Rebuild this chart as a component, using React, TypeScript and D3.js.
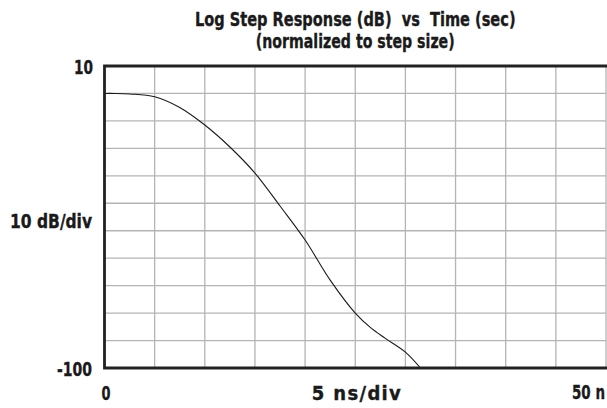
import React, { useEffect, useRef } from "react";
import * as d3 from "d3";

// Step response samples
const timeNs: number[] = [0, 1, 2.5, 5, 7.5, 10, 12.5, 15, 17.5, 20, 22.5, 25, 26.5, 28, 30, 31.5];
const levelDb: number[] = [0, 0, -0.2, -1.2, -5.1, -11.5, -19.5, -29, -41, -53.4, -68, -80, -85.2, -89.2, -94.2, -100];

// Grid divisions
const xGrid: number[] = d3.range(0, 55, 5);
const yGrid: number[] = d3.range(-100, 20, 10);

const titleLines: string[] = ["Log Step Response (dB)  vs  Time (sec)", "(normalized to step size)"];

const FONT = "'Liberation Sans Narrow', 'DejaVu Sans Condensed', 'Arial Narrow', sans-serif";

const App: React.FC = () => {
  const svgRef = useRef<SVGSVGElement>(null);

  useEffect(() => {
    const svg = d3.select(svgRef.current);
    svg.selectAll("*").remove();

    const left = 104.5;
    const right = 606;
    const top = 66;
    const bottom = 368;

    const x = d3.scaleLinear().domain([0, 50]).range([left, right]);
    const y = d3.scaleLinear().domain([-100, 10]).range([bottom, top]);

    // Grid lines
    const grid = svg.append("g").attr("stroke", "#b4b4b4").attr("stroke-width", 1.3);
    grid
      .selectAll(".vx")
      .data(xGrid)
      .enter()
      .append("line")
      .attr("x1", (d) => x(d))
      .attr("x2", (d) => x(d))
      .attr("y1", top)
      .attr("y2", bottom);
    grid
      .selectAll(".hy")
      .data(yGrid)
      .enter()
      .append("line")
      .attr("x1", left)
      .attr("x2", right)
      .attr("y1", (d) => y(d))
      .attr("y2", (d) => y(d));

    // Response curve
    const pts = timeNs.map((t, i) => [t, levelDb[i]] as [number, number]);
    const line = d3
      .line<[number, number]>()
      .x((d) => x(d[0]))
      .y((d) => y(d[1]))
      .curve(d3.curveCatmullRom.alpha(0.5));
    svg
      .append("path")
      .datum(pts)
      .attr("d", line)
      .attr("fill", "none")
      .attr("stroke", "#1a1a1a")
      .attr("stroke-width", 1.1);

    // Frame: top, left, bottom heavy; right edge is cut off
    svg
      .append("path")
      .attr("d", `M${right + 2},${top} H${left} V${bottom} H${right + 2}`)
      .attr("fill", "none")
      .attr("stroke", "#222")
      .attr("stroke-width", 2.8);

    // text helper: fit to a target width (squeeze glyphs, or add letter spacing)
    const g = svg.append("g").attr("stroke", "#1a1a1a").attr("stroke-width", 0.35);
    const label = (tx: number, ty: number, anchor: string, w: number, s: string, size = 19.5) => {
      const t = g
        .append("text")
        .attr("x", 0)
        .attr("y", 0)
        .attr("font-size", size)
        .attr("text-anchor", anchor)
        .style("white-space", "pre")
        .text(s);
      const natural = (t.node() as SVGTextElement).getComputedTextLength();
      let sx = 1;
      if (natural > w) sx = w / natural;
      else if (s.length > 1) t.attr("letter-spacing", (w - natural) / (s.length - 1));
      t.attr("transform", `translate(${tx},${ty}) scale(${sx},1)`);
    };

    // Titles
    label((left + right) / 2, 25.5, "middle", 321, titleLines[0], 19.5);
    label((left + right) / 2, 48, "middle", 199, titleLines[1], 19.5);

    // Axis labels
    label(93, 74, "end", 19, "10");
    label(92, 376, "end", 35, "-100");
    label(92, 228, "end", 82, "10 dB/div");
    label(x(0) + 1.5, 400, "middle", 9, "0");
    label(357, 400, "middle", 89, "5 ns/div", 20);
    label(572, 399, "start", 33, "50 n");
  }, []);

  return (
    <svg
      ref={svgRef}
      width={607}
      height={408}
      style={{ position: "absolute", left: 0, top: 0, background: "#fff" }}
      fontFamily={FONT}
      fontWeight="bold"
      fontSize={18}
      fill="#1a1a1a"
    ></svg>
  );
};

export default App;
